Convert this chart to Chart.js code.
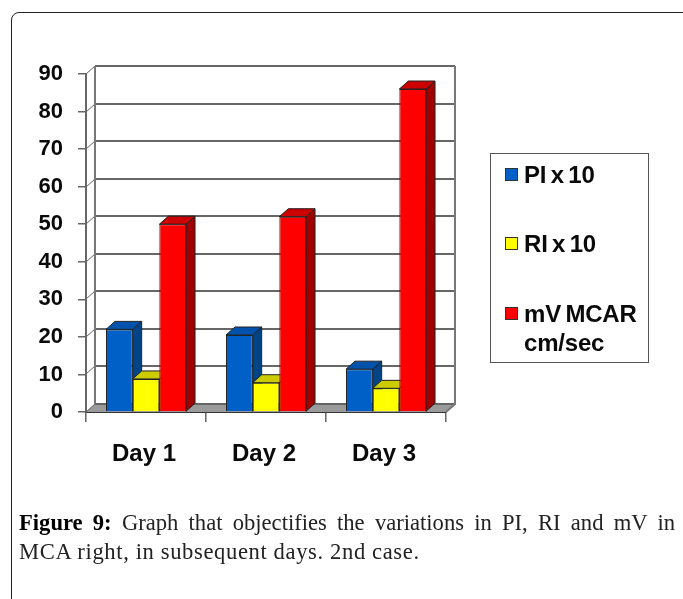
<!DOCTYPE html>
<html><head><meta charset="utf-8">
<script src="https://cdn.jsdelivr.net/npm/chart.js@4/dist/chart.umd.min.js"></script>
<style>
html,body{margin:0;padding:0;background:#fff;width:683px;height:599px;overflow:hidden}
#frame{position:absolute;left:11px;top:12px;width:680px;height:620px;border:1.5px solid #222;border-radius:8px;box-sizing:border-box}
canvas{position:absolute;left:0;top:0;filter:blur(.35px)}
#legend{position:absolute;left:490px;top:153px;width:159px;height:210px;border:1.5px solid #555;box-sizing:border-box;font:bold 24px "Liberation Sans",Arial,sans-serif;color:#0a0a0a;letter-spacing:-.2px;word-spacing:-2px;filter:blur(.35px)}
.li{position:absolute;left:15px;line-height:29px}
.sw{position:absolute;width:13px;height:13px;border:1.5px solid #333;box-sizing:border-box;left:-1px;top:8px}
.tx{display:block;margin-left:18px;white-space:nowrap}
#cap{position:absolute;left:19px;top:508px;width:656px;font:22.6px/29px "Liberation Serif",serif;color:#222;filter:blur(.3px)}
#cap div{text-align:justify;text-align-last:justify;white-space:nowrap}
#cap div+div{text-align-last:left;letter-spacing:.62px}
#cap b{color:#000}
</style></head><body>
<div id="frame"></div>
<canvas id="c" width="683" height="480"></canvas>
<div id="legend"></div>
<div id="cap"><div><b>Figure 9:</b> Graph that objectifies the variations in PI, RI and mV in</div><div>MCA right, in subsequent days. 2nd case.</div></div>
<script>
const categories = ["Day 1", "Day 2", "Day 3"];
const seriesNames = ["PI x 10", "RI x 10", "mV MCAR cm/sec"];
const piValues = [22, 20.5, 11.4];
const riValues = [8.8, 7.8, 6.3];
const mvValues = [50, 52, 86];
const yTicks = [0, 10, 20, 30, 40, 50, 60, 70, 80, 90];
const fronts = ["#0060c8", "#ffff00", "#ff0000"];
const tops = ["#0052ad", "#cccc00", "#cc0000"];
const sides = ["#004488", "#b0b000", "#a00000"];
const DX = 9, DY = 8;

function poly(ctx, pts, fill, stroke) {
  ctx.beginPath();
  pts.forEach((p, i) => i ? ctx.lineTo(p[0], p[1]) : ctx.moveTo(p[0], p[1]));
  ctx.closePath();
  if (fill) { ctx.fillStyle = fill; ctx.fill(); }
  if (stroke) { ctx.strokeStyle = stroke; ctx.lineWidth = 1; ctx.stroke(); }
}

const depth = {
  id: "depth",
  beforeDatasetsDraw(chart) {
    const { ctx, chartArea: a, scales: { y } } = chart;
    ctx.save();
    poly(ctx, [[a.left, a.bottom], [a.right, a.bottom], [a.right + DX, a.bottom - DY], [a.left + DX, a.bottom - DY]], "#9a9a9a");
    yTicks.forEach(v => {
      const py = Math.round(y.getPixelForValue(v));
      ctx.strokeStyle = "#666";
      ctx.lineWidth = 1;
      ctx.beginPath(); ctx.moveTo(a.left, py); ctx.lineTo(a.left + DX, py - DY); ctx.stroke();
      ctx.strokeStyle = "#666";
      ctx.lineWidth = 2;
      ctx.beginPath(); ctx.moveTo(a.left + DX, py - DY); ctx.lineTo(a.right + DX, py - DY); ctx.stroke();
    });
    ctx.strokeStyle = "#777";
    ctx.lineWidth = 2;
    ctx.beginPath();
    ctx.moveTo(a.left + DX, a.bottom - DY); ctx.lineTo(a.left + DX, a.top - DY);
    ctx.moveTo(a.right + DX, a.top - DY); ctx.lineTo(a.right + DX, a.bottom - DY); ctx.lineTo(a.right, a.bottom);
    ctx.stroke();
    categories.forEach((_, i) => {
      chart.data.datasets.forEach((ds, d) => {
        const b = chart.getDatasetMeta(d).data[i];
        const l = b.x - b.width / 2, r = b.x + b.width / 2, t = b.y, bt = b.base;
        poly(ctx, [[r, bt], [r + DX, bt - DY], [r + DX, t - DY], [r, t]], sides[d], "#222");
        poly(ctx, [[l, t], [l + DX, t - DY], [r + DX, t - DY], [r, t]], tops[d], "#222");
      });
    });
    ctx.restore();
  }
};

new Chart(document.getElementById("c"), {
  type: "bar",
  data: {
    labels: categories,
    datasets: [piValues, riValues, mvValues].map((v, i) => ({
      label: seriesNames[i], data: v,
      backgroundColor: fronts[i], borderColor: "#222", borderWidth: 1,
      categoryPercentage: 0.667, barPercentage: 1
    }))
  },
  options: {
    responsive: false, animation: false,
    layout: { padding: { top: 74, right: 237, left: 0, bottom: 0 } },
    plugins: { legend: { display: false }, tooltip: { enabled: false }, title: { display: false } },
    scales: {
      x: {
        afterFit: s => { s.height = 68; },
        grid: { offset: true, drawOnChartArea: false, tickLength: 10, color: "#666", lineWidth: 1.5 },
        border: { color: "#333", width: 2 },
        ticks: { color: "#0a0a0a", padding: 18, labelOffset: -2, maxRotation: 0, font: { family: "'Liberation Sans'", weight: "bold", size: 24 } }
      },
      y: {
        min: 0, max: 90,
        afterFit: s => { s.width = 86; },
        afterBuildTicks: s => { s.ticks = yTicks.map(v => ({ value: v })); },
        grid: { drawOnChartArea: false, tickLength: 8, color: "#666", lineWidth: 1.5 },
        border: { color: "#666", width: 2 },
        ticks: { color: "#0a0a0a", padding: 15, font: { family: "'Liberation Sans'", weight: "bold", size: 22 } }
      }
    }
  },
  plugins: [depth]
});

const legendEl = document.getElementById("legend");
const rowTops = [6, 75, 145];
seriesNames.forEach((n, i) => {
  const li = document.createElement("div");
  li.className = "li"; li.style.top = rowTops[i] + "px";
  const sw = document.createElement("span");
  sw.className = "sw"; sw.style.background = fronts[i];
  const tx = document.createElement("span");
  tx.className = "tx";
  tx.innerHTML = n === "mV MCAR cm/sec" ? "mV MCAR<br>cm/sec" : n;
  li.append(sw, tx);
  legendEl.append(li);
});
</script>
</body></html>
